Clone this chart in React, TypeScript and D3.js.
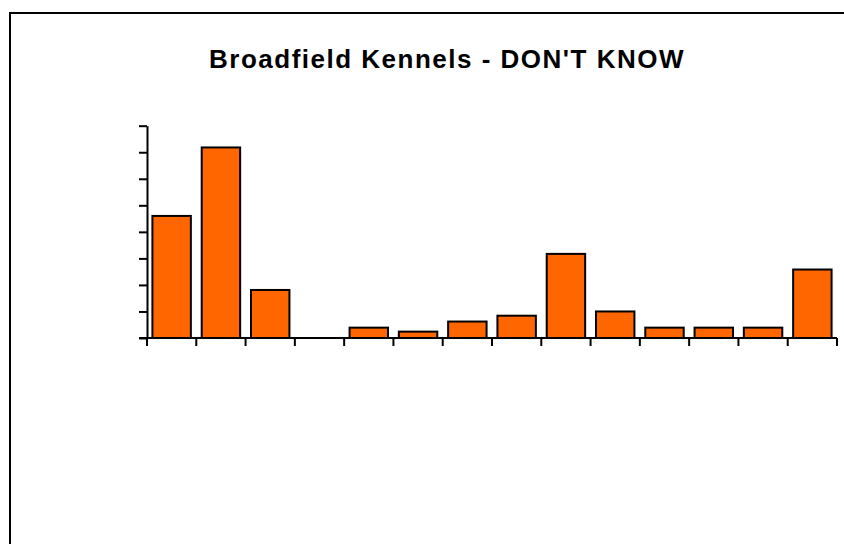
import React, { useRef, useEffect } from 'react';
import * as d3 from 'd3';

// Chart data (no category labels shown in the original)
const categories = ['C1', 'C2', 'C3', 'C4', 'C5', 'C6', 'C7', 'C8', 'C9', 'C10', 'C11', 'C12', 'C13', 'C14'];
const values = [4.6, 7.18, 1.81, 0, 0.39, 0.24, 0.62, 0.84, 3.17, 1.0, 0.39, 0.39, 0.39, 2.58];
const yTicks = [0, 1, 2, 3, 4, 5, 6, 7, 8];
const title = "Broadfield Kennels - DON'T KNOW";

const App: React.FC = () => {
  const chartRef = useRef<SVGSVGElement | null>(null);

  useEffect(() => {
    if (!chartRef.current) return;

    d3.select(chartRef.current).selectAll('*').remove();

    const width = 844;
    const height = 544;
    const margin = { top: 125.7, right: 7, bottom: 206, left: 147 };
    const innerWidth = width - margin.left - margin.right;
    const innerHeight = height - margin.top - margin.bottom;

    const svg = d3.select(chartRef.current)
      .attr('width', width)
      .attr('height', height);

    svg.append('rect')
      .attr('width', width)
      .attr('height', height)
      .attr('fill', '#fff');

    // Outer frame
    svg.append('rect')
      .attr('x', 10)
      .attr('y', 13)
      .attr('width', width + 20)
      .attr('height', height + 20)
      .attr('fill', 'none')
      .attr('stroke', '#000')
      .attr('stroke-width', 2);

    // Title
    svg.append('text')
      .attr('x', 447)
      .attr('y', 68)
      .attr('text-anchor', 'middle')
      .attr('font-family', 'Liberation Sans, Arial, sans-serif')
      .attr('font-weight', 'bold')
      .attr('font-size', 26)
      .attr('letter-spacing', 1.5)
      .attr('fill', '#000')
      .text(title);

    const g = svg.append('g')
      .attr('transform', `translate(${margin.left},${margin.top})`);

    const x = d3.scaleBand()
      .domain(categories)
      .range([0, innerWidth])
      .paddingInner(0.22)
      .paddingOuter(0.11);

    const y = d3.scaleLinear()
      .domain([0, 8])
      .range([innerHeight, 0]);

    // Bars
    g.append('g')
      .selectAll('rect')
      .data(values.map((v, i) => ({ cat: categories[i], v })).filter(d => d.v > 0))
      .join('rect')
      .attr('x', d => x(d.cat) || 0)
      .attr('y', d => y(d.v))
      .attr('width', x.bandwidth())
      .attr('height', d => innerHeight - y(d.v))
      .attr('fill', '#FF6600')
      .attr('stroke', '#000')
      .attr('stroke-width', 2);

    // Y axis
    const yAxis = g.append('g')
      .call(d3.axisLeft(y).tickValues(yTicks).tickSize(8).tickSizeOuter(0).tickFormat(() => ''));
    yAxis.select('.domain').attr('stroke', '#000').attr('stroke-width', 2);
    yAxis.selectAll('.tick line').attr('stroke', '#000').attr('stroke-width', 2);

    // X axis with ticks at category boundaries
    const step = x.step();
    const boundaries = d3.range(categories.length + 1).map(i => i * step);
    const xAxisG = g.append('g').attr('transform', `translate(0,${innerHeight})`);
    xAxisG.append('line')
      .attr('x1', -8)
      .attr('x2', innerWidth)
      .attr('stroke', '#000')
      .attr('stroke-width', 2);
    xAxisG.selectAll('line.tick')
      .data(boundaries)
      .join('line')
      .attr('class', 'tick')
      .attr('x1', d => d)
      .attr('x2', d => d)
      .attr('y1', 0)
      .attr('y2', 8)
      .attr('stroke', '#000')
      .attr('stroke-width', 2);
  }, []);

  return (
    <div style={{ position: 'absolute', left: 0, top: 0 }}>
      <svg ref={chartRef} style={{ display: 'block' }} />
    </div>
  );
};

export default App;
